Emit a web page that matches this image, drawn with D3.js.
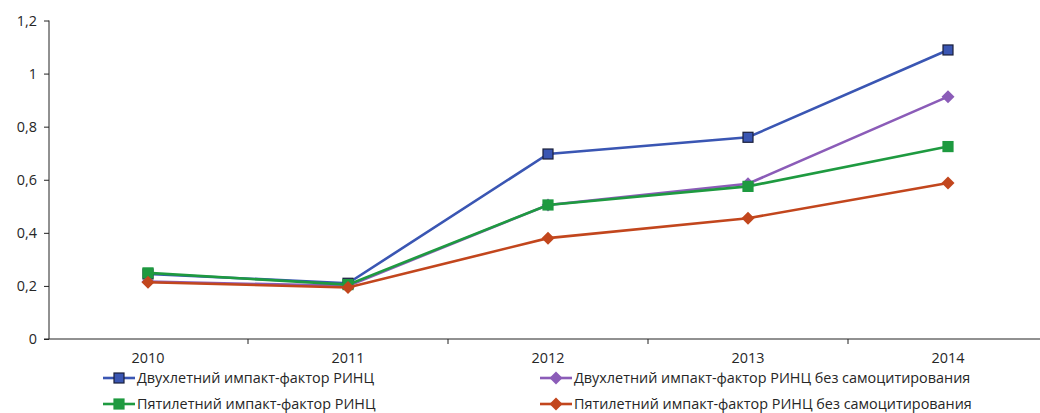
<!DOCTYPE html>
<meta charset="utf-8">
<style>
    body { margin: 0; background: #fff; }
    text { font-family: "Open Sans", sans-serif; font-size: 14.4px; fill: #262626; }
    .axis path, .axis line { stroke: #222; }
</style>
<body>
<script src="https://d3js.org/d3.v7.min.js"></script>
<script>
    var years = ["2010", "2011", "2012", "2013", "2014"];
    var yTicks = [0, 0.2, 0.4, 0.6, 0.8, 1, 1.2];

    var twoYear = [0.245, 0.210, 0.697, 0.760, 1.089];
    var twoYearNoSelf = [0.216, 0.200, 0.505, 0.585, 0.913];
    var fiveYear = [0.249, 0.205, 0.505, 0.575, 0.725];
    var fiveYearNoSelf = [0.214, 0.194, 0.380, 0.455, 0.588];

    var seriesNames = [
        "Двухлетний импакт-фактор РИНЦ",
        "Двухлетний импакт-фактор РИНЦ без самоцитирования",
        "Пятилетний импакт-фактор РИНЦ",
        "Пятилетний импакт-фактор РИНЦ без самоцитирования"
    ];
    var seriesColors = ["#3a56b3", "#8b5cb8", "#1e9a40", "#c2461d"];
    var seriesShapes = ["square", "diamond", "square", "diamond"];

    var series = [twoYear, twoYearNoSelf, fiveYear, fiveYearNoSelf].map(function(v, i) {
        return { name: seriesNames[i], color: seriesColors[i], shape: seriesShapes[i], values: v };
    });

    var width = 1040, height = 413;
    var svg = d3.select("body").append("svg").attr("width", width).attr("height", height);

    var x = d3.scaleBand().domain(years).range([48, 1048]);
    var y = d3.scaleLinear().domain([0, 1.2]).range([339, 20.5]);

    // y axis
    var yAxis = svg.append("g").attr("class", "axis")
        .attr("transform", "translate(49,0)")
        .call(d3.axisLeft(y).tickValues(yTicks).tickSize(5).tickSizeOuter(0)
            .tickFormat(function(d) { return String(d).replace(".", ","); }));
    yAxis.select(".domain").attr("d", "M0," + y(1.2) + "V" + y(0));
    yAxis.selectAll("text").attr("x", -12).attr("dy", "0.32em");

    // x axis
    var xAxis = svg.append("g").attr("class", "axis")
        .attr("transform", "translate(0," + y(0) + ")");
    xAxis.append("line").attr("x1", 44).attr("x2", width).attr("stroke", "#222");
    xAxis.selectAll(".tk").data(years.slice(1)).enter().append("line")
        .attr("x1", function(d) { return x(d); }).attr("x2", function(d) { return x(d); })
        .attr("y1", 0).attr("y2", 5).attr("stroke", "#bbb");
    xAxis.selectAll(".lbl").data(years).enter().append("text")
        .attr("x", function(d) { return x(d) + x.bandwidth() / 2; })
        .attr("y", 24).attr("text-anchor", "middle").text(function(d) { return d; });

    var line = d3.line()
        .x(function(d, i) { return x(years[i]) + x.bandwidth() / 2; })
        .y(function(d) { return y(d); });

    function drawMarker(g, shape, color, cx, cy) {
        if (shape === "square") {
            g.append("rect").attr("x", cx - 5).attr("y", cy - 5).attr("width", 10).attr("height", 10)
                .attr("fill", color).attr("stroke", color === "#3a56b3" ? "#1a1f3a" : color).attr("stroke-width", 1.2);
        } else {
            g.append("path").attr("d", "M" + cx + "," + (cy - 6.5) + "L" + (cx + 6.5) + "," + cy +
                "L" + cx + "," + (cy + 6.5) + "L" + (cx - 6.5) + "," + cy + "Z")
                .attr("fill", color);
        }
    }

    [0, 1, 2, 3].forEach(function(k) {
        var s = series[k];
        var g = svg.append("g");
        g.append("path").datum(s.values).attr("d", line)
            .attr("fill", "none").attr("stroke", s.color).attr("stroke-width", 2.6);
        s.values.forEach(function(v, i) {
            drawMarker(g, s.shape, s.color, x(years[i]) + x.bandwidth() / 2, y(v));
        });
    });

    // legend
    var legendPos = [[103, 378], [540, 378], [103, 404], [540, 404]];
    var legend = svg.append("g");
    series.forEach(function(s, i) {
        var p = legendPos[i];
        var g = legend.append("g");
        g.append("line").attr("x1", p[0]).attr("x2", p[0] + 32).attr("y1", p[1]).attr("y2", p[1])
            .attr("stroke", s.color).attr("stroke-width", 2.6);
        drawMarker(g, s.shape, s.color, p[0] + 16, p[1]);
        g.append("text").attr("x", p[0] + 34).attr("y", p[1]).attr("dy", "0.35em").text(s.name);
    });
</script>
</body>
